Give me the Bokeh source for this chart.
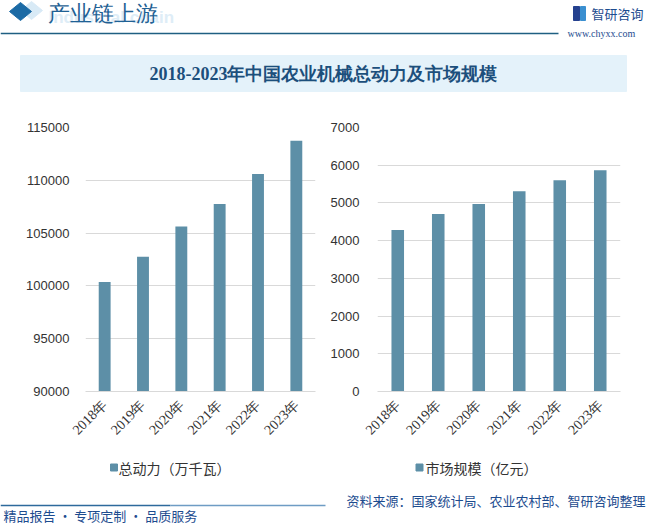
import math
from bokeh.plotting import figure
from bokeh.layouts import column, row
from bokeh.models import (Range1d, FactorRange, FixedTicker, ColumnDataSource,
                          NumeralTickFormatter)
from bokeh.core.properties import value
from bokeh.embed import file_html
from bokeh.resources import INLINE

# ---------------- data ----------------
years = ["2018年", "2019年", "2020年", "2021年", "2022年", "2023年"]
power = [100372, 102758, 105622, 107764, 110597, 113742]      # 万千瓦
market = [4283, 4705, 4969, 5312, 5602, 5866]                 # 亿元
power_ticks = [90000, 95000, 100000, 105000, 110000, 115000]
market_ticks = [0, 1000, 2000, 3000, 4000, 5000, 6000, 7000]
power_label = "总动力（万千瓦）"
market_label = "市场规模（亿元）"
title_text = "2018-2023年中国农业机械总动力及市场规模"
header_text = "产业链上游"
header_sub = "Industrial chain"
logo_text = "智研咨询"
site_text = "www.chyxx.com"
source_text = "资料来源：国家统计局、农业农村部、智研咨询整理"
slogan_text = "精品报告 · 专项定制 · 品质服务"

BAR = "#5d8fa7"
DARK = "#1d4c8f"
CJK = "Noto Sans CJK SC"


def blank(w, h, x0, x1, y0, y1):
    f = figure(width=w, height=h, x_range=Range1d(x0, x1), y_range=Range1d(y1, y0),
               output_backend="svg", toolbar_location=None,
               x_axis_location=None, y_axis_location=None, min_border=0)
    f.grid.visible = False
    f.outline_line_color = None
    f.background_fill_color = "white"
    f.border_fill_color = "white"
    return f


# ---------------- header ----------------
hd = blank(648, 100, 0, 648, 0, 100)
hd.patch([20, 31, 42, 31], [10, 1, 10, 19], color="#d8eaf6")
hd.patch([9, 20, 31, 20], [11, 2, 11, 20], color="#1b6aa5")
hd.text([48], [17], text=[header_sub], text_font=value("Liberation Sans"),
        text_font_style="bold", text_font_size=value("17px"), text_color="#deedf7",
        text_baseline="middle")
hd.text([47], [13], text=[header_text], text_font=value("Liberation Serif"),
        text_font_size=value("22px"), text_color="#1f6194", text_baseline="middle")
hd.segment([0], [33], [558], [33], line_color="#1f5f82", line_width=1.5)
hd.quad(left=[573], right=[579], top=[6], bottom=[20], color="#25418f")
hd.quad(left=[580], right=[585], top=[6], bottom=[20], color="#3a8fd0")
hd.text([591], [13], text=[logo_text], text_font=value(CJK),
        text_font_size=value("13px"), text_color=DARK, text_baseline="middle")
hd.text([567], [33], text=[site_text], text_font=value("Liberation Serif"),
        text_font_size=value("10px"), text_color=DARK, text_baseline="middle")
hd.quad(left=[20], right=[626], top=[55], bottom=[91], color="#e4f2fa")
hd.text([323], [73], text=[title_text], text_font=value("Liberation Serif"),
        text_font_style="bold", text_font_size=value("18px"), text_color="#1c4f7c",
        text_align="center", text_baseline="middle")


# ---------------- charts ----------------
def chart(w, vals, y0, y1, ticks, ml, mr, standoff):
    src = ColumnDataSource(dict(x=years, top=vals, bottom=[y0] * len(vals)))
    f = figure(width=w, height=345, x_range=FactorRange(*years), y_range=Range1d(y0, y1),
               output_backend="svg", toolbar_location=None,
               min_border_left=ml, min_border_right=mr, min_border_top=27,
               min_border_bottom=54)
    f.outline_line_color = None
    f.background_fill_color = "white"
    f.border_fill_color = "white"
    f.vbar(x="x", top="top", bottom="bottom", width=0.31, source=src,
           color=BAR, line_color=None)
    f.xgrid.visible = False
    f.ygrid.ticker = FixedTicker(ticks=ticks)
    f.ygrid.grid_line_color = "#d9d9d9"
    ya = f.yaxis[0]
    ya.ticker = FixedTicker(ticks=ticks)
    ya.formatter = NumeralTickFormatter(format="0")
    ya.axis_line_color = None
    ya.major_tick_line_color = None
    ya.minor_tick_line_color = None
    ya.major_label_standoff = standoff
    ya.major_label_text_font = "Liberation Sans"
    ya.major_label_text_font_size = "13px"
    ya.major_label_text_color = "#333333"
    xa = f.xaxis[0]
    xa.axis_line_color = "#d9d9d9"
    xa.major_tick_line_color = None
    xa.minor_tick_line_color = None
    xa.major_label_orientation = math.pi / 4
    xa.major_label_standoff = 5
    xa.major_label_text_font = "Liberation Serif"
    xa.major_label_text_font_size = "14px"
    xa.major_label_text_color = "#333333"
    return f


left = chart(320, power, 90000, 115000, power_ticks, 85, 5, 10)
right = chart(328, market, 0, 7000, market_ticks, 57, 28, 12)

# ---------------- legends + footer ----------------
ft = blank(648, 81, 0, 648, 445, 526)
ft.scatter([113.5, 419], [467, 467], marker="square", size=7, color=BAR)
ft.text([118, 425], [467, 467], text=[power_label, market_label],
        text_font=value(CJK), text_font_size=value("14px"), text_color="#333333",
        text_baseline="middle")
ft.text([645], [500], text=[source_text], text_font=value(CJK),
        text_font_size=value("13px"), text_color=DARK, text_align="right",
        text_baseline="middle")
ft.segment([0], [505], [170], [505], line_color="#2d6a9c", line_width=1.5)
ft.segment([170], [505], [325], [505], line_color="#6e9cc4", line_width=1.5)
ft.text([3], [515], text=[slogan_text], text_font=value(CJK),
        text_font_size=value("13px"), text_color=DARK, text_baseline="middle")

p = column(hd, row(left, right), ft)
open("out.html", "w").write(file_html(p, INLINE))
